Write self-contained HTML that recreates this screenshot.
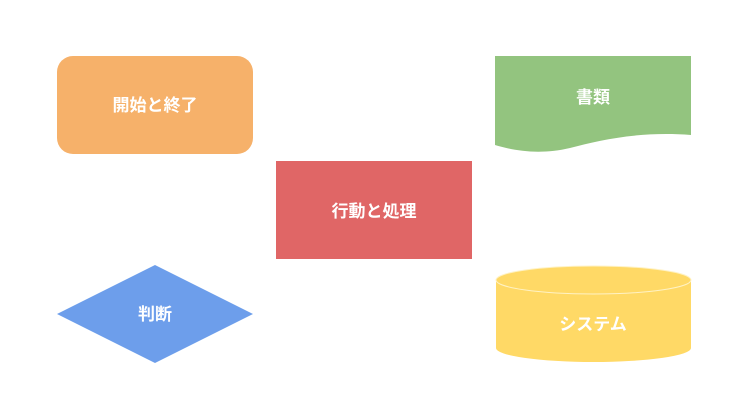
<!DOCTYPE html>
<html><head><meta charset="utf-8"><style>body{margin:0;background:#fff}</style></head><body>
<svg width="748" height="420" xmlns="http://www.w3.org/2000/svg" style="display:block;font-family:'Liberation Sans','Noto Sans CJK JP',sans-serif;font-weight:bold;font-size:17px">
<rect x="57" y="56" width="196" height="98" rx="16" fill="#f6b16a"/>
<text x="155" y="111" fill="#fff" text-anchor="middle">開始と終了</text>
<path d="M495 56 H691 V135 C640 131 600 140 570 148 C540 155 515 151 495 145 Z" fill="#93c47f"/>
<text x="593" y="103" fill="#fff" text-anchor="middle">書類</text>
<rect x="276" y="161" width="196" height="98" fill="#e06666"/>
<text x="374" y="217" fill="#fff" text-anchor="middle">行動と処理</text>
<polygon points="155,265 253,314 155,363 57,314" fill="#6d9eeb"/>
<text x="155" y="320" fill="#fff" text-anchor="middle">判断</text>
<path d="M496 280 V348 A97.5 14 0 0 0 691 348 V280 Z" fill="#ffd966"/>
<ellipse cx="593.5" cy="280" rx="97.5" ry="14" fill="#ffd966" stroke="#fff2c4" stroke-width="1"/>
<text x="593" y="330" fill="#fff" text-anchor="middle">システム</text>
</svg>
</body></html>
